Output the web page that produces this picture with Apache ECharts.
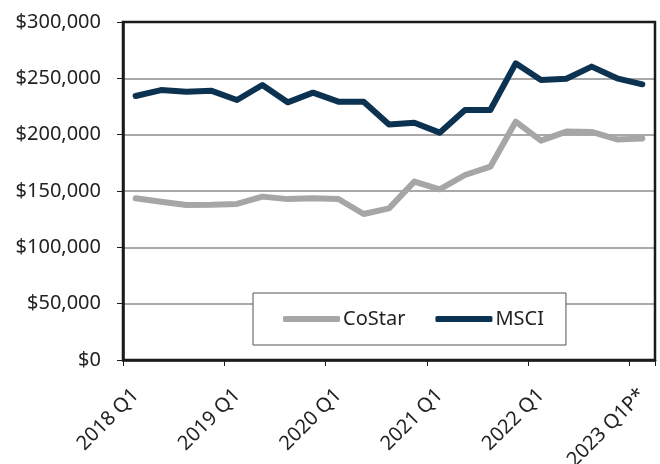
<!DOCTYPE html>
<html>
<head>
<meta charset="utf-8">
<script src="https://cdn.jsdelivr.net/npm/echarts@6/dist/echarts.min.js"></script>
<style>
  html, body { margin: 0; padding: 0; background: #fff; }
  #chart { width: 660px; height: 464px; }
</style>
</head>
<body>
<div id="chart"></div>
<script>
// Quarters, 2018 Q1 .. 2023 Q1P*
const quarters = [
  '2018 Q1', '2018 Q2', '2018 Q3', '2018 Q4',
  '2019 Q1', '2019 Q2', '2019 Q3', '2019 Q4',
  '2020 Q1', '2020 Q2', '2020 Q3', '2020 Q4',
  '2021 Q1', '2021 Q2', '2021 Q3', '2021 Q4',
  '2022 Q1', '2022 Q2', '2022 Q3', '2022 Q4',
  '2023 Q1P*'
];

const costar = [
  143500, 140500, 137500, 137700, 138500, 145000, 142800, 143500,
  142900, 129600, 134600, 158300, 151500, 164200, 171600, 211500,
  194700, 202700, 202400, 195800, 196700
];

const msci = [
  234300, 239600, 238100, 238900, 230800, 244100, 228700, 237300,
  229300, 229300, 209000, 210600, 201800, 221900, 221900, 263300,
  248500, 249700, 260400, 250000, 244700
];

const fontFamily = '"Noto Sans", sans-serif';

function dollars(v) {
  return '$' + String(v).replace(/\B(?=(\d{3})+(?!\d))/g, ',');
}

const chart = echarts.init(document.getElementById('chart'));

const option = {
  animation: false,
  backgroundColor: '#fff',
  grid: {
    left: 123,
    right: 5,
    top: 22,
    bottom: 104,
    containLabel: false,
    outerBoundsMode: 'none',
    show: true,
    borderColor: '#1a1a1a',
    borderWidth: 2.5,
    z: 5
  },
  legend: {
    data: ['CoStar', 'MSCI'],
    left: 253,
    top: 293,
    width: 320,
    padding: [16, 22, 16, 30],
    itemGap: 30,
    itemWidth: 57,
    itemHeight: 6,
    icon: 'roundRect',
    backgroundColor: '#fff',
    borderColor: '#555',
    borderWidth: 1,
    textStyle: {
      fontFamily: fontFamily,
      fontSize: 20,
      color: '#222',
      padding: [0, 0, 0, -2]
    }
  },
  xAxis: {
    type: 'category',
    data: quarters,
    boundaryGap: true,
    axisLine: { show: true, lineStyle: { color: '#1a1a1a', width: 2.5 } },
    axisTick: {
      show: true,
      interval: 3,
      length: 6,
      lineStyle: { color: '#1a1a1a', width: 1 }
    },
    axisLabel: {
      interval: 3,
      rotate: 45,
      margin: 32,
      fontFamily: fontFamily,
      fontSize: 20,
      color: '#222'
    },
    splitLine: { show: false }
  },
  yAxis: {
    type: 'value',
    min: 0,
    max: 300000,
    interval: 50000,
    axisLine: { show: true, lineStyle: { color: '#1a1a1a', width: 2.5 } },
    axisTick: { show: true, length: 6, lineStyle: { color: '#1a1a1a', width: 1 } },
    axisLabel: {
      margin: 22,
      fontFamily: fontFamily,
      fontSize: 20,
      color: '#222',
      formatter: dollars
    },
    splitLine: { show: true, lineStyle: { color: '#8c8c8c', width: 1.5 } }
  },
  series: [
    {
      name: 'CoStar',
      type: 'line',
      data: costar,
      symbol: 'none',
      color: '#a6a6a6',
      lineStyle: { width: 6, color: '#a6a6a6', cap: 'round', join: 'round' },
      z: 3
    },
    {
      name: 'MSCI',
      type: 'line',
      data: msci,
      symbol: 'none',
      color: '#0b3250',
      lineStyle: { width: 6, color: '#0b3250', cap: 'round', join: 'round' },
      z: 4
    }
  ]
};

chart.setOption(option);
</script>
</body>
</html>
